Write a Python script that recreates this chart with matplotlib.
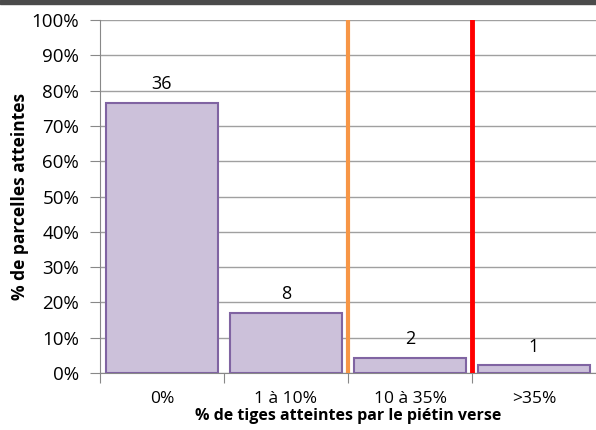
import matplotlib.pyplot as plt
from matplotlib.patches import Rectangle

categories = ["0%", "1 à 10%", "10 à 35%", ">35%"]
counts = [36, 8, 2, 1]
total = sum(counts)
shares = [c / total * 100 for c in counts]
y_ticks = list(range(0, 101, 10))
seuils = [1.5, 2.5]  # limites entre classes
seuil_colors = ["#f79646", "#ff0000"]

plt.rcParams['font.family'] = ['Open Sans', 'DejaVu Sans']

fig = plt.figure(figsize=(5.96, 4.30), dpi=100)
fig.patches.append(Rectangle((0, 1 - 4 / 430), 1, 4 / 430, transform=fig.transFigure,
                             color="#4b4b4b", zorder=0))
ax = fig.add_axes([100 / 596, 1 - 373 / 430, 1 - 100 / 596, 353 / 430])

ax.bar(range(len(categories)), shares, width=0.91, color="#ccc1da",
       edgecolor="#8064a2", linewidth=1.5, zorder=3)
for i, (s, c) in enumerate(zip(shares, counts)):
    ax.annotate(str(c), (i, s), xytext=(0, 7), textcoords="offset points",
                ha="center", va="bottom", fontsize=13, color="black")

for x, col, lw in zip(seuils, seuil_colors, [3, 3.5]):
    ax.axvline(x, color=col, linewidth=lw, zorder=4)

ax.set_xlim(-0.5, 3.5)
ax.set_ylim(0, 100)
ax.set_yticks(y_ticks)
ax.set_yticklabels([f"{v}%" for v in y_ticks], fontsize=13.5)
ax.yaxis.grid(True, color="#a0a0a0", linewidth=1, zorder=0)
ax.set_axisbelow(True)

ax.set_xticks([i - 0.5 for i in range(len(categories))])
ax.set_xticklabels([])
ax.set_xticks(range(len(categories)), minor=True)
ax.set_xticklabels(categories, minor=True, fontsize=12.5)
ax.tick_params(axis="x", which="minor", length=0, pad=13)
ax.tick_params(axis="x", which="major", length=7, color="#888888")
ax.tick_params(axis="y", length=7, color="#888888", pad=8)

for side in ["top", "right"]:
    ax.spines[side].set_visible(False)
for side in ["left", "bottom"]:
    ax.spines[side].set_color("#888888")

ax.set_xlabel("% de tiges atteintes par le piétin verse", fontsize=11.5,
              fontweight="bold", labelpad=1)
ax.set_ylabel("% de parcelles atteintes", fontsize=12.5, fontweight="bold", labelpad=2)

fig.savefig("out.png", dpi=100)
